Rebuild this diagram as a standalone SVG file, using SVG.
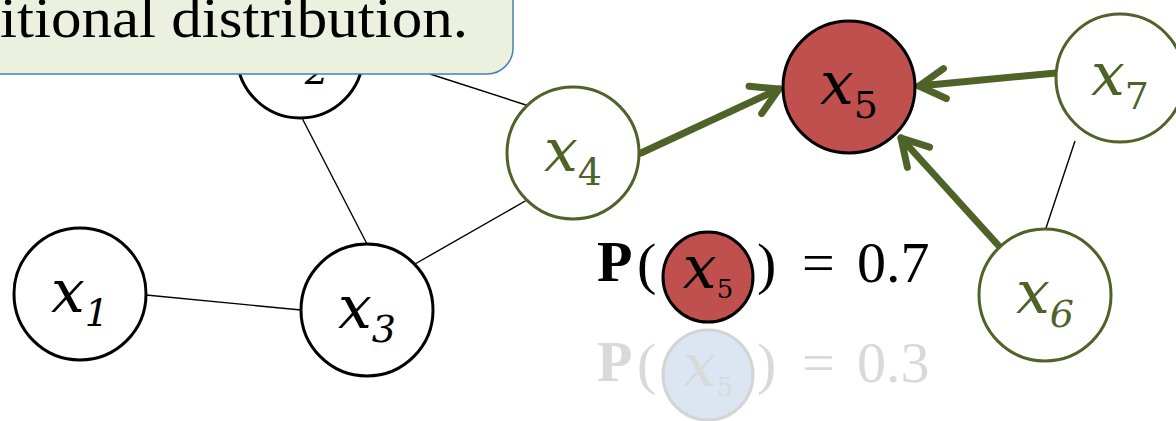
<svg xmlns="http://www.w3.org/2000/svg" width="1176" height="421" viewBox="0 0 1176 421">
  <defs>
    <style>
      .node { fill: #ffffff; stroke: #000000; stroke-width: 3; }
      .node-g { fill: #ffffff; stroke: #4f6228; stroke-width: 3; }
      .node-r { fill: #c0504d; stroke: #000000; stroke-width: 3; }
      .node-f { fill: #dce6f2; stroke: #d4d4d4; stroke-width: 3; }
      .lbl { font-family: "DejaVu Serif", "Liberation Serif", serif; font-style: italic; font-size: 60px; fill: #000000; }
      .lbl-g { fill: #4f6228; }
      .sub { font-size: 38px; }
      .up { font-style: normal; }
      .edge { stroke: #000000; stroke-width: 1.4; fill: none; }
      .arrow { stroke: #4f6228; stroke-width: 7; fill: none; stroke-linecap: round; marker-end: url(#chev); }
      .eq { font-family: "Liberation Serif", "DejaVu Serif", serif; font-size: 58px; fill: #000000; }
      .faded { fill: #d9d9d9; }
      .callout { fill: #ebf1de; stroke: #4a7ebb; stroke-width: 1.5; }
      .callout-text { font-family: "Liberation Serif", "DejaVu Serif", serif; font-size: 58px; fill: #000000; }
    </style>
    <marker id="chev" markerUnits="userSpaceOnUse" markerWidth="60" markerHeight="60" refX="0" refY="0" viewBox="-40 -30 50 60" orient="auto">
      <path d="M -26 -15 L 0 0 L -26 15" fill="none" stroke="#4f6228" stroke-width="7" stroke-linecap="round" stroke-linejoin="round"/>
    </marker>
  </defs>

  <!-- undirected edges and directed arrows -->
  <g id="connectors">
    <line class="edge" x1="146" y1="295" x2="301" y2="310"/>
    <line class="edge" x1="302" y1="118" x2="367" y2="244"/>
    <line class="edge" x1="415" y1="264" x2="527" y2="200"/>
    <line class="edge" x1="430" y1="74" x2="526" y2="105"/>
    <line class="edge" x1="1075" y1="141" x2="1046" y2="228"/>
    <line class="arrow" x1="641" y1="153" x2="779" y2="89"/>
    <line class="arrow" x1="1056" y1="73" x2="919" y2="86"/>
    <line class="arrow" x1="998" y1="245" x2="901" y2="138"/>
  </g>

  <g id="node-x1">
    <circle class="node" cx="80" cy="294" r="66"/>
    <text class="lbl" x="80" y="312" text-anchor="middle">x<tspan class="sub" dy="14">1</tspan></text>
  </g>
  <g id="node-x2">
    <circle class="node" cx="300" cy="55" r="63"/>
    <text class="lbl" x="300" y="70" text-anchor="middle">x<tspan class="sub" dy="14">2</tspan></text>
  </g>
  <g id="node-x3">
    <circle class="node" cx="367" cy="310" r="66"/>
    <text class="lbl" x="367" y="328" text-anchor="middle">x<tspan class="sub" dy="14">3</tspan></text>
  </g>
  <g id="node-x4">
    <circle class="node-g" cx="573" cy="153" r="66"/>
    <text class="lbl lbl-g" x="573" y="171" text-anchor="middle">x<tspan class="sub up" dy="14">4</tspan></text>
  </g>
  <g id="node-x5">
    <circle class="node-r" cx="849" cy="87" r="66"/>
    <text class="lbl" x="849" y="104" text-anchor="middle">x<tspan class="sub up" dy="14">5</tspan></text>
  </g>
  <g id="node-x6">
    <circle class="node-g" cx="1045" cy="295" r="66"/>
    <text class="lbl lbl-g" x="1045" y="313" text-anchor="middle">x<tspan class="sub" dy="14">6</tspan></text>
  </g>
  <g id="node-x7">
    <circle class="node-g" cx="1120" cy="78" r="64"/>
    <text class="lbl lbl-g" x="1120" y="95" text-anchor="middle">x<tspan class="sub up" dy="14">7</tspan></text>
  </g>

  <!-- probability of x5 being in each state -->
  <g id="prob-high">
    <text class="eq" x="597" y="281" font-weight="bold">P</text>
    <text class="eq" x="637" y="283" font-size="66">(</text>
    <circle class="node-r" cx="708" cy="277" r="45"/>
    <text class="lbl" x="708" y="288" text-anchor="middle" font-size="40">x<tspan class="up" font-size="26" dy="10">5</tspan></text>
    <text class="eq" x="757" y="283" font-size="66">)</text>
    <text class="eq" x="802" y="282">=</text>
    <text class="eq" x="857" y="282" font-size="60">0.7</text>
  </g>
  <g id="prob-low">
    <text class="eq faded" x="597" y="381" font-weight="bold">P</text>
    <text class="eq faded" x="637" y="383" font-size="66">(</text>
    <circle class="node-f" cx="708" cy="375" r="45"/>
    <text class="lbl faded" x="708" y="386" text-anchor="middle" font-size="40">x<tspan class="up" font-size="26" dy="10">5</tspan></text>
    <text class="eq faded" x="757" y="383" font-size="66">)</text>
    <text class="eq faded" x="802" y="382">=</text>
    <text class="eq faded" x="857" y="382" font-size="60">0.3</text>
  </g>

  <g id="callout">
    <rect class="callout" x="-40" y="-40" width="553" height="114" rx="26" ry="26"/>
    <text class="callout-text" x="0" y="37" textLength="468" lengthAdjust="spacingAndGlyphs">itional distribution.</text>
  </g>
</svg>
